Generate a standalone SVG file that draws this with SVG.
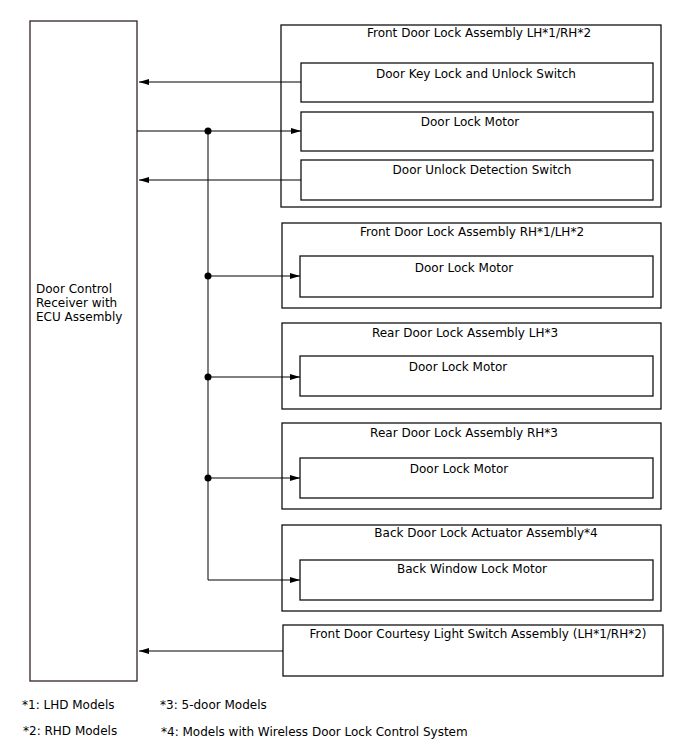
<svg xmlns="http://www.w3.org/2000/svg" width="688" height="755" viewBox="0 0 688 755">
<defs>
<marker id="ah" markerWidth="10" markerHeight="6" refX="10" refY="3" orient="auto" markerUnits="userSpaceOnUse">
<path d="M0,0 L10,3 L0,6 Z" fill="#000"/>
</marker>
<style>
.box{fill:#fff;stroke:#111;stroke-width:1.3}
.ecu{fill:#fff;stroke:#322;stroke-width:1.3}
.t{font-family:"DejaVu Sans",sans-serif;font-size:12px;fill:#000;text-anchor:middle}
.tl{font-family:"DejaVu Sans",sans-serif;font-size:12px;fill:#000}
.w{fill:none;stroke:#000;stroke-width:1}
.dot{fill:#000}
</style>
</defs>
<rect width="688" height="755" fill="#fff"/>

<g id="ecu">
<rect class="ecu" x="30" y="21" width="107" height="660"/>
<text class="tl" x="36" y="293">Door Control</text>
<text class="tl" x="36" y="307">Receiver with</text>
<text class="tl" x="36" y="321">ECU Assembly</text>
</g>

<g id="front-lh">
<rect class="box" x="281" y="25" width="380" height="182"/>
<text class="t" x="479" y="37">Front Door Lock Assembly LH*1/RH*2</text>
<g id="key-switch">
<rect class="box" x="301" y="63" width="352" height="39"/>
<text class="t" x="476" y="78">Door Key Lock and Unlock Switch</text>
</g>
<g id="motor-1">
<rect class="box" x="301" y="112" width="352" height="39"/>
<text class="t" x="470" y="126">Door Lock Motor</text>
</g>
<g id="unlock-switch">
<rect class="box" x="301" y="160" width="352" height="40"/>
<text class="t" x="482" y="174">Door Unlock Detection Switch</text>
</g>
</g>

<g id="front-rh">
<rect class="box" x="282" y="223" width="379" height="85"/>
<text class="t" x="472" y="236">Front Door Lock Assembly RH*1/LH*2</text>
<g id="motor-2">
<rect class="box" x="300" y="256" width="353" height="41"/>
<text class="t" x="464" y="272">Door Lock Motor</text>
</g>
</g>

<g id="rear-lh">
<rect class="box" x="282" y="323" width="379" height="86"/>
<text class="t" x="465" y="337">Rear Door Lock Assembly LH*3</text>
<g id="motor-3">
<rect class="box" x="300" y="356" width="353" height="40"/>
<text class="t" x="458" y="371">Door Lock Motor</text>
</g>
</g>

<g id="rear-rh">
<rect class="box" x="282" y="423" width="379" height="86"/>
<text class="t" x="464" y="437">Rear Door Lock Assembly RH*3</text>
<g id="motor-4">
<rect class="box" x="300" y="458" width="353" height="40"/>
<text class="t" x="459" y="473">Door Lock Motor</text>
</g>
</g>

<g id="back-door">
<rect class="box" x="282" y="525" width="379" height="86"/>
<text class="t" x="486" y="537">Back Door Lock Actuator Assembly*4</text>
<g id="back-motor">
<rect class="box" x="300" y="560" width="353" height="40"/>
<text class="t" x="472" y="573">Back Window Lock Motor</text>
</g>
</g>

<g id="courtesy">
<rect class="box" x="283" y="625" width="380" height="51"/>
<text class="t" x="478" y="638">Front Door Courtesy Light Switch Assembly (LH*1/RH*2)</text>
</g>

<g id="connectors">
<line class="w" x1="301" y1="82" x2="139" y2="82" marker-end="url(#ah)"/>
<line class="w" x1="137" y1="131" x2="301" y2="131" marker-end="url(#ah)"/>
<line class="w" x1="301" y1="180" x2="139" y2="180" marker-end="url(#ah)"/>
<polyline class="w" points="208,131 208,580 300,580" marker-end="url(#ah)"/>
<line class="w" x1="208" y1="276" x2="300" y2="276" marker-end="url(#ah)"/>
<line class="w" x1="208" y1="377" x2="300" y2="377" marker-end="url(#ah)"/>
<line class="w" x1="208" y1="478" x2="300" y2="478" marker-end="url(#ah)"/>
<line class="w" x1="283" y1="651" x2="139" y2="651" marker-end="url(#ah)"/>
<circle class="dot" cx="208" cy="131" r="3.5"/>
<circle class="dot" cx="208" cy="276" r="3.5"/>
<circle class="dot" cx="208" cy="377" r="3.5"/>
<circle class="dot" cx="208" cy="478" r="3.5"/>
</g>

<g id="notes">
<text class="tl" x="22" y="709">*1: LHD Models</text>
<text class="tl" x="160" y="709">*3: 5-door Models</text>
<text class="tl" x="23" y="735">*2: RHD Models</text>
<text class="tl" x="161" y="736">*4: Models with Wireless Door Lock Control System</text>
</g>
</svg>
